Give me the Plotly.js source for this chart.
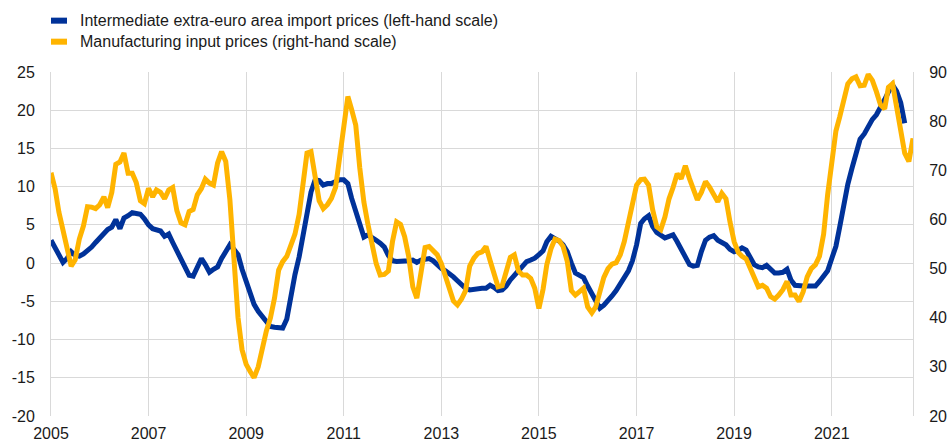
<!DOCTYPE html>
<html>
<head>
<meta charset="utf-8">
<script src="https://cdn.plot.ly/plotly-3.0.1.min.js"></script>
<style>html,body{margin:0;padding:0;background:#fff;}#chart{width:947px;height:441px;}</style>
</head>
<body>
<div id="chart"></div>
<script>
// Monthly series, starting January 2005
var startYear = 2005;
var seriesNames = [
  "Intermediate extra-euro area import prices (left-hand scale)",
  "Manufacturing input prices (right-hand scale)"
];
// Intermediate extra-euro area import prices (left-hand scale), Jan 2005 - Jul 2022
var importPrices = [
  3.0, 2.0, 1.0, 0.1, 0.6, 1.5, 1.0, 0.9, 1.2, 1.6, 2.1, 2.7,
  3.3, 3.9, 4.4, 4.7, 5.7, 4.5, 5.9, 6.2, 6.6, 6.5, 6.4, 5.8,
  5.0, 4.5, 4.3, 4.2, 3.5, 3.8, 2.7, 1.6, 0.5, -0.4, -1.6, -1.7,
  -0.5, 0.6, -0.2, -1.2, -0.8, -0.5, 0.6, 1.6, 2.4, 1.8, 1.1, -0.8,
  -2.5, -4.2, -5.4, -6.3, -7.0, -7.8, -8.3, -8.4, -8.5, -8.5, -7.3, -4.0,
  -1.5, 0.8, 3.5, 6.3, 9.3, 10.9, 10.8, 10.2, 10.4, 10.4, 10.7, 10.9,
  10.9, 10.4, 8.5, 6.9, 5.0, 3.4, 3.7, 3.4, 3.0, 2.6, 2.1, 1.0,
  0.3, 0.2, 0.2, 0.2, 0.3, 0.4, 0.1, 0.4, 0.5, 0.6, 0.3, -0.2,
  -0.7, -1.0, -1.3, -1.8, -2.3, -2.9, -3.3, -3.5, -3.4, -3.3, -3.3, -3.3,
  -2.9, -3.2, -3.6, -3.5, -3.0, -2.2, -1.5, -1.0, -0.4, 0.2, 0.4, 0.65,
  1.1, 1.6, 2.8, 3.5, 3.2, 2.9, 2.4, 1.5, 0.0, -1.3, -1.6, -1.9,
  -3.0, -4.1, -5.1, -5.9, -5.5, -5.0, -4.3, -3.6, -2.8, -2.0, -1.0, 0.3,
  2.4, 5.2, 5.8, 6.2, 4.8, 4.0, 3.6, 3.3, 3.5, 3.7, 2.8, 1.9,
  0.9, -0.2, -0.4, -0.3, 1.5, 3.0, 3.4, 3.6, 3.0, 2.7, 2.4, 1.8,
  1.5, 1.7, 2.0, 1.7, 0.6, -0.2, -0.5, -0.6, -0.3, -0.8, -1.3, -1.3,
  -1.2, -0.8, -2.2, -2.9, -3.0, -3.0, -3.0, -3.0, -3.0, -2.4, -1.8, -1.0,
  0.6, 2.2, 4.7, 8.0, 10.3, 12.4, 14.4, 16.2, 16.9, 18.0, 18.8, 19.4,
  20.3, 21.4, 22.4, 23.3, 22.5, 21.0, 18.3
];
// Manufacturing input prices (right-hand scale), Jan 2005 - Sep 2022
var inputPrices = [
  69.5, 66.2, 61.5, 58.0, 54.0, 50.5, 51.8, 56.0, 58.7, 62.6, 62.5, 62.2,
  63.0, 64.6, 62.4, 65.5, 71.2, 71.7, 73.5, 69.4, 69.4, 67.5, 63.8, 63.2,
  66.3, 64.6, 66.0, 65.5, 64.2, 66.0, 66.5, 61.8, 59.3, 58.9, 61.6, 62.0,
  65.0, 66.3, 68.2, 67.4, 67.0, 71.5, 73.8, 71.8, 64.0, 51.0, 40.0, 33.5,
  30.5, 29.0, 27.8, 30.0, 34.0, 37.3, 39.9, 44.0, 49.7, 51.4, 52.5, 55.0,
  57.0, 61.0, 66.5, 73.5, 73.8, 69.0, 63.8, 62.2, 63.0, 64.3, 66.5, 72.5,
  79.0, 85.0, 82.4, 79.2, 70.5, 63.5, 59.0, 54.8, 51.0, 48.7, 48.8, 49.5,
  55.5, 59.5, 59.0, 56.5, 52.5, 46.3, 44.0, 49.1, 54.3, 54.5, 53.5, 52.8,
  51.0, 48.4, 46.5, 43.4, 42.6, 43.8, 45.5, 50.5, 52.1, 53.1, 53.4, 54.5,
  51.6, 49.0, 46.3, 46.5, 49.7, 52.3, 52.8, 49.5, 48.7, 48.7, 48.0, 46.0,
  41.9, 45.8, 50.8, 54.0, 56.0, 55.7, 54.5, 51.5, 45.5, 44.6, 45.3, 46.0,
  42.2, 41.0, 42.2, 45.5, 48.2, 50.0, 50.9, 51.2, 52.8, 55.5, 59.5, 63.8,
  67.0, 68.1, 68.2, 67.0, 62.0, 58.5, 57.9, 60.5, 64.2, 66.5, 69.3, 68.3,
  70.9, 68.3, 66.0, 64.0, 65.5, 67.7, 66.6, 65.3, 63.6, 65.3, 64.2, 59.5,
  55.5, 53.3, 52.5, 52.0, 50.2, 47.8, 46.3, 46.6, 46.0, 44.3, 43.8, 44.6,
  45.7, 47.4, 44.6, 44.6, 43.3, 45.3, 48.3, 50.0, 50.8, 52.5, 57.0, 65.0,
  72.0, 78.0, 80.8, 84.5, 87.6, 88.6, 89.0, 87.2, 87.3, 89.5, 88.3, 86.0,
  83.3, 82.5, 86.9, 87.6, 83.0, 78.0, 73.5, 71.8, 76.5
];
var leftTicks = [-20, -15, -10, -5, 0, 5, 10, 15, 20, 25];
var rightTicks = [20, 30, 40, 50, 60, 70, 80, 90];
var yearTicks = [2005, 2007, 2009, 2011, 2013, 2015, 2017, 2019, 2021];

function monthDates(n) {
  var out = [];
  for (var i = 0; i < n; i++) {
    var y = startYear + Math.floor(i / 12);
    var m = (i % 12) + 1;
    out.push(y + "-" + (m < 10 ? "0" + m : m) + "-01");
  }
  return out;
}

var BLUE = "#003299", YELLOW = "#FFB400", GRID = "#d9d9d9";
var FONT = "Liberation Sans, Arial, sans-serif";

var traces = [
  {x: monthDates(importPrices.length), y: importPrices, type: "scatter", mode: "lines",
   name: seriesNames[0], line: {color: BLUE, width: 5}, yaxis: "y", showlegend: false},
  {x: monthDates(inputPrices.length), y: inputPrices, type: "scatter", mode: "lines",
   name: seriesNames[1], line: {color: YELLOW, width: 5}, yaxis: "y2", showlegend: false}
];

var layout = {
  width: 947, height: 441,
  margin: {l: 51, r: 34, t: 72, b: 25, pad: 0},
  paper_bgcolor: "#fff", plot_bgcolor: "#fff",
  font: {family: FONT, size: 16, color: "#1a1a1a"},
  xaxis: {
    type: "date", range: ["2005-01-01", "2022-09-01"],
    tickvals: yearTicks.map(function (y) { return y + "-01-01"; }),
    ticktext: yearTicks.map(String),
    showgrid: true, gridcolor: GRID, gridwidth: 1, zeroline: false,
    showline: false, ticks: "", ticklabelstandoff: 6,
    tickfont: {family: FONT, size: 16, color: "#1a1a1a"}
  },
  yaxis: {
    range: [-20, 25], tickvals: leftTicks, ticktext: leftTicks.map(String),
    showgrid: true, gridcolor: GRID, gridwidth: 1, zeroline: false,
    showline: true, linecolor: GRID, linewidth: 1, ticks: "", ticklabelstandoff: 12,
    tickfont: {family: FONT, size: 16, color: "#1a1a1a"}
  },
  yaxis2: {
    range: [20, 90], tickvals: rightTicks, ticktext: rightTicks.map(String),
    overlaying: "y", side: "right", showgrid: false, zeroline: false,
    showline: true, linecolor: GRID, linewidth: 1, ticks: "", ticklabelstandoff: 12,
    tickfont: {family: FONT, size: 16, color: "#1a1a1a"}
  },
  shapes: [
    {type: "rect", xref: "paper", yref: "paper", x0: 0, x1: 0.01856, y0: 1.1405, y1: 1.1580,
     fillcolor: BLUE, line: {width: 0}},
    {type: "rect", xref: "paper", yref: "paper", x0: 0, x1: 0.01856, y0: 1.0794, y1: 1.0969,
     fillcolor: YELLOW, line: {width: 0}}
  ],
  annotations: [
    {xref: "paper", yref: "paper", x: 0.0313, y: 1.1493, xanchor: "left", yanchor: "middle",
     text: seriesNames[0], showarrow: false, font: {family: FONT, size: 16, color: "#1a1a1a"}},
    {xref: "paper", yref: "paper", x: 0.0313, y: 1.0882, xanchor: "left", yanchor: "middle",
     text: seriesNames[1], showarrow: false, font: {family: FONT, size: 16, color: "#1a1a1a"}}
  ]
};

Plotly.newPlot("chart", traces, layout, {displayModeBar: false, staticPlot: true});
</script>
</body>
</html>
